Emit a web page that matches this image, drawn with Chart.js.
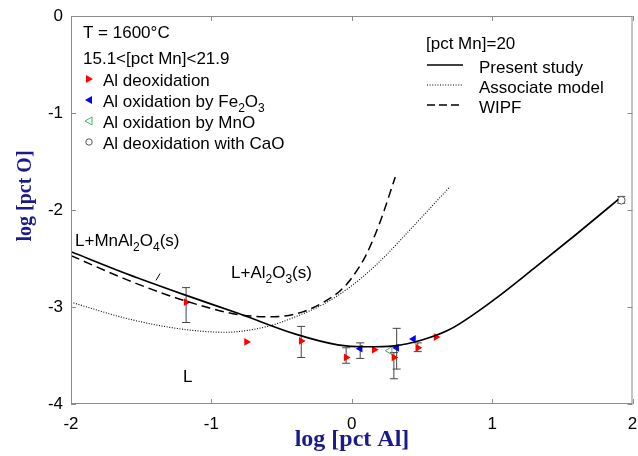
<!DOCTYPE html>
<html lang="en">
<head>
<meta charset="UTF-8">
<title>Al deoxidation equilibrium</title>
<script src="https://cdn.jsdelivr.net/npm/chart.js"></script>
<style>
  body { margin: 0; background: #fff; }
  canvas { display: block; }
</style>
</head>
<body>
<canvas id="grafico" width="638" height="456"></canvas>
<script>
// curves, [pct Mn]=20
const presentX = [-2, -1.6, -1.2, -0.8, -0.4, -0.1, 0.1, 0.3, 0.5, 0.7, 1.0, 1.3, 1.6, 1.9];
const presentY = [-2.43, -2.66, -2.87, -3.07, -3.28, -3.39, -3.41, -3.40, -3.34, -3.23, -2.94, -2.60, -2.25, -1.89];
const assocX = [-2, -1.6, -1.2, -0.9, -0.6, -0.4, -0.2, 0.0, 0.2, 0.45, 0.7];
const assocY = [-2.95, -3.12, -3.23, -3.26, -3.20, -3.10, -2.97, -2.78, -2.53, -2.15, -1.76];
const wipfX = [-2, -1.6, -1.2, -0.8, -0.55, -0.35, -0.2, -0.08, 0.0, 0.1, 0.2, 0.31];
const wipfY = [-2.47, -2.72, -2.93, -3.08, -3.10, -3.05, -2.95, -2.83, -2.70, -2.47, -2.13, -1.66];

// measurements
const deoxX = [-1.18, -0.75, -0.36, -0.04, 0.16, 0.30, 0.47, 0.60];
const deoxY = [-2.95, -3.36, -3.35, -3.52, -3.44, -3.52, -3.42, -3.31];
const fe2o3X = [0.06, 0.32, 0.44];
const fe2o3Y = [-3.43, -3.42, -3.33];
const mnoX = [0.27];
const mnoY = [-3.45];
const caoX = [1.92];
const caoY = [-1.90];

// error bars: x, low, high
const errX = [-1.18, -0.36, -0.04, 0.06, 0.32, 0.30, 0.47, 1.92];
const errLo = [-3.16, -3.52, -3.58, -3.53, -3.64, -3.74, -3.46, -1.93];
const errHi = [-2.80, -3.20, -3.42, -3.37, -3.22, -3.47, -3.37, -1.86];

// MnAl2O4 / Al2O3 boundary on the present curve
const boundX = [-1.38];
const boundY = [-2.69];

const xTicks = [-2, -1, 0, 1, 2];
const yTicks = [-4, -3, -2, -1, 0];

const pts = (xs, ys) => xs.map((x, i) => ({ x: x, y: ys[i] }));
const sans = '"Liberation Sans", Arial, sans-serif';
const serif = '"Liberation Serif", "Times New Roman", serif';

function rich(ctx, x, y, parts, size) {
  let cx = x;
  for (const [t, sub] of parts) {
    ctx.font = (sub ? Math.round(size * 0.68) : size) + 'px ' + sans;
    ctx.fillText(t, cx, sub ? y + size * 0.28 : y);
    cx += ctx.measureText(t).width;
  }
}

function marker(ctx, kind, x, y) {
  ctx.save();
  ctx.translate(x, y);
  ctx.beginPath();
  if (kind == 'circle') {
    ctx.arc(0, 0, 3.2, 0, Math.PI * 2);
  } else {
    const d = kind == 'right' ? 1 : -1;
    ctx.moveTo(4 * d, 0);
    ctx.lineTo(-3 * d, -4);
    ctx.lineTo(-3 * d, 4);
    ctx.closePath();
  }
  if (kind == 'right') { ctx.fillStyle = '#ff0000'; ctx.fill(); }
  else if (kind == 'left') { ctx.fillStyle = '#0000ff'; ctx.fill(); }
  else if (kind == 'open') { ctx.strokeStyle = '#3cb371'; ctx.lineWidth = 1; ctx.stroke(); }
  else { ctx.strokeStyle = '#555'; ctx.lineWidth = 1; ctx.stroke(); }
  ctx.restore();
}

const decor = {
  id: 'decor',
  beforeDatasetsDraw(chart) {
    const ctx = chart.ctx, xs = chart.scales.x, ys = chart.scales.y;
    ctx.save();
    ctx.strokeStyle = '#444';
    ctx.lineWidth = 1;
    errX.forEach((x, i) => {
      const px = xs.getPixelForValue(x);
      const lo = ys.getPixelForValue(errLo[i]);
      const hi = ys.getPixelForValue(errHi[i]);
      ctx.beginPath();
      ctx.moveTo(px, lo); ctx.lineTo(px, hi);
      ctx.moveTo(px - 4, lo); ctx.lineTo(px + 4, lo);
      ctx.moveTo(px - 4, hi); ctx.lineTo(px + 4, hi);
      ctx.stroke();
    });
    ctx.restore();
  },
  afterDraw(chart) {
    const ctx = chart.ctx, a = chart.chartArea, xs = chart.scales.x, ys = chart.scales.y;
    ctx.save();
    // frame and inward ticks
    ctx.strokeStyle = '#8c8c8c';
    ctx.lineWidth = 1;
    ctx.strokeRect(a.left + 0.5, a.top + 0.5, a.right - a.left - 1, a.bottom - a.top - 1);
    ctx.beginPath();
    xTicks.forEach(v => {
      const p = Math.round(xs.getPixelForValue(v)) + 0.5;
      ctx.moveTo(p, a.bottom); ctx.lineTo(p, a.bottom - 5);
      ctx.moveTo(p, a.top); ctx.lineTo(p, a.top + 5);
    });
    yTicks.forEach(v => {
      const p = Math.round(ys.getPixelForValue(v)) + 0.5;
      ctx.moveTo(a.left, p); ctx.lineTo(a.left + 5, p);
      ctx.moveTo(a.right, p); ctx.lineTo(a.right - 5, p);
    });
    ctx.stroke();

    // axis titles
    ctx.fillStyle = '#1a1a8c';
    ctx.textAlign = 'center';
    ctx.textBaseline = 'alphabetic';
    ctx.font = 'bold 24px ' + serif;
    ctx.fillText('log [pct Al]', 352, 446);
    ctx.save();
    ctx.translate(31, 196);
    ctx.rotate(-Math.PI / 2);
    ctx.font = 'bold 20px ' + serif;
    ctx.fillText('log [pct O]', 0, 0);
    ctx.restore();

    // left legend
    ctx.fillStyle = '#000';
    ctx.textAlign = 'left';
    ctx.font = '17px ' + sans;
    ctx.fillText('T = 1600°C', 83, 38);
    ctx.fillText('15.1<[pct Mn]<21.9', 83, 64);
    const rows = [
      ['right', [['Al deoxidation']]],
      ['left', [['Al oxidation by Fe'], ['2', 1], ['O'], ['3', 1]]],
      ['open', [['Al oxidation by MnO']]],
      ['circle', [['Al deoxidation with CaO']]]
    ];
    rows.forEach((r, i) => {
      const base = 86 + i * 21;
      marker(ctx, r[0], 89, base - 7);
      ctx.fillStyle = '#000';
      rich(ctx, 103, base, r[1], 17);
    });

    // right legend
    ctx.font = '17px ' + sans;
    ctx.fillText('[pct Mn]=20', 426, 49);
    const lines = [[[], 'Present study', 1.6], [[1, 1.6], 'Associate model', 1], [[8, 4], 'WIPF', 1.4]];
    lines.forEach((l, i) => {
      const base = 73 + i * 20;
      ctx.strokeStyle = '#000';
      ctx.lineWidth = l[2];
      ctx.setLineDash(l[0]);
      ctx.beginPath();
      ctx.moveTo(427, base - 8); ctx.lineTo(463, base - 8);
      ctx.stroke();
      ctx.setLineDash([]);
      ctx.fillStyle = '#000';
      ctx.font = '17px ' + sans;
      ctx.fillText(l[1], 479, base);
    });

    // phase regions
    rich(ctx, 75, 246, [['L+MnAl'], ['2', 1], ['O'], ['4', 1], ['(s)']], 17);
    rich(ctx, 231, 278, [['L+Al'], ['2', 1], ['O'], ['3', 1], ['(s)']], 17);
    ctx.font = '17px ' + sans;
    ctx.fillText('L', 183, 382);
    ctx.restore();
  }
};

const curve = (xs, ys, width, dash) => ({
  type: 'line',
  data: pts(xs, ys),
  borderColor: '#000',
  borderWidth: width,
  borderDash: dash,
  pointRadius: 0,
  fill: false,
  cubicInterpolationMode: 'monotone'
});

// keep the plot box fixed, labels may overhang it
function noPad(s) {
  s.paddingLeft = 0; s.paddingRight = 0;
  s.paddingTop = 0; s.paddingBottom = 0;
}

new Chart(document.getElementById('grafico'), {
  type: 'scatter',
  data: {
    datasets: [
      curve(presentX, presentY, 1.7, []),
      curve(assocX, assocY, 1.1, [1, 1.6]),
      curve(wipfX, wipfY, 1.5, [9, 5]),
      { data: pts(boundX, boundY), pointStyle: 'line', rotation: -60, pointRadius: 4, borderColor: '#000', borderWidth: 1 },
      { data: pts(deoxX, deoxY), pointStyle: 'triangle', rotation: 90, pointRadius: 4.5, backgroundColor: '#ff0000', borderColor: '#ff0000', borderWidth: 0 },
      { data: pts(fe2o3X, fe2o3Y), pointStyle: 'triangle', rotation: -90, pointRadius: 4.5, backgroundColor: '#0000ff', borderColor: '#0000ff', borderWidth: 0 },
      { data: pts(mnoX, mnoY), pointStyle: 'triangle', rotation: -90, pointRadius: 4.5, backgroundColor: 'rgba(0,0,0,0)', borderColor: '#3cb371', borderWidth: 1 },
      { data: pts(caoX, caoY), pointStyle: 'circle', pointRadius: 3.8, backgroundColor: '#fff', borderColor: '#555', borderWidth: 1 }
    ]
  },
  options: {
    responsive: false,
    animation: false,
    layout: { padding: { left: 0, top: 16, right: 5, bottom: 0 } },
    plugins: { legend: { display: false }, tooltip: { enabled: false } },
    scales: {
      x: {
        min: -2, max: 2,
        afterFit: s => { s.height = 52; noPad(s); },
        afterBuildTicks: s => { s.ticks = xTicks.map(v => ({ value: v })); },
        grid: { display: false, drawTicks: false },
        border: { display: false },
        ticks: { color: '#000', padding: 10, font: { family: sans, size: 17 } }
      },
      y: {
        min: -4, max: 0,
        afterFit: s => { s.width = 71; noPad(s); },
        afterBuildTicks: s => { s.ticks = yTicks.map(v => ({ value: v })); },
        grid: { display: false, drawTicks: false },
        border: { display: false },
        ticks: { color: '#000', padding: 8, font: { family: sans, size: 17 } }
      }
    }
  },
  plugins: [decor]
});
</script>
</body>
</html>
